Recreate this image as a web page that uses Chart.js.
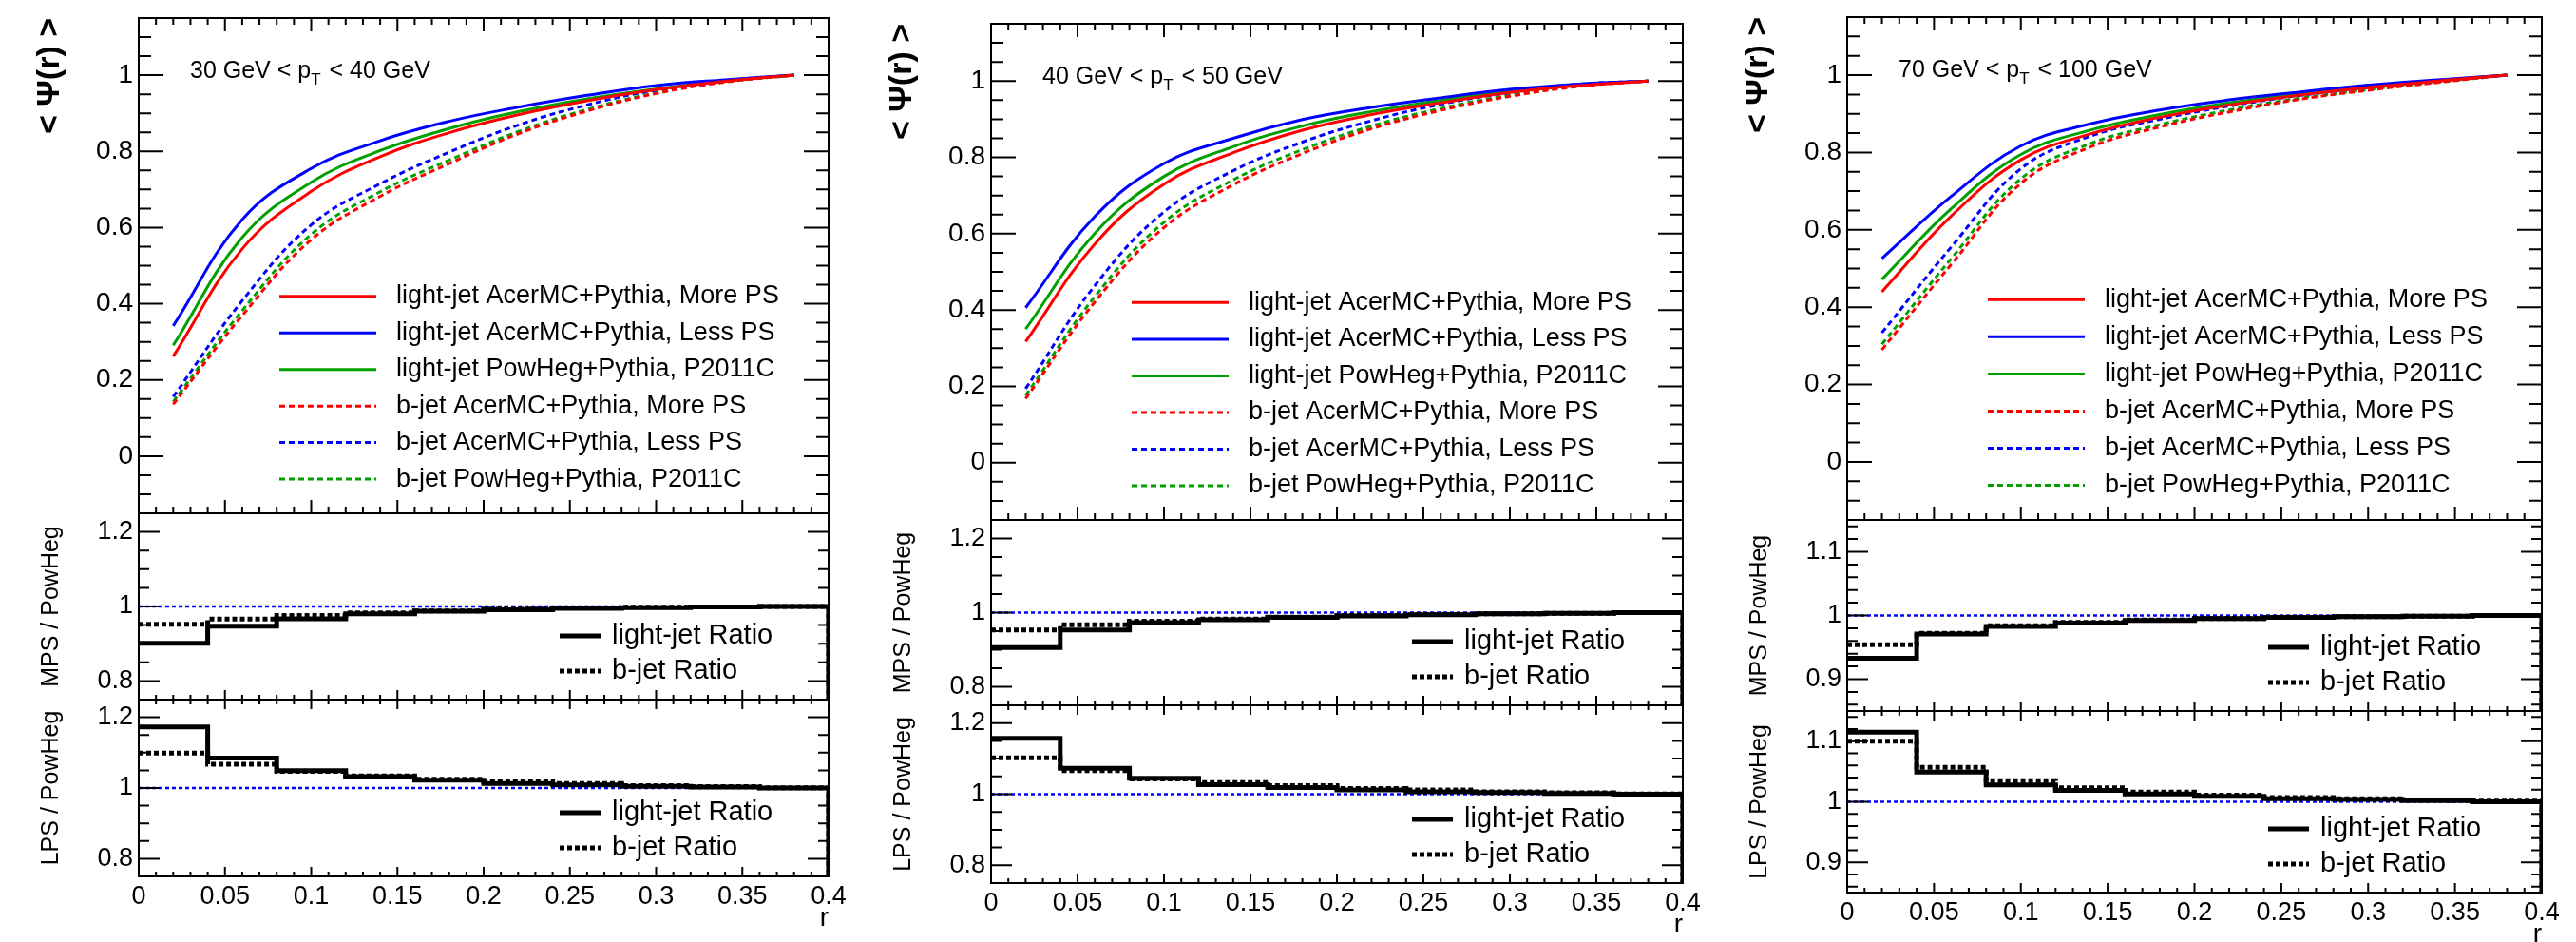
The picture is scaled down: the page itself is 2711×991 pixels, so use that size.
<!DOCTYPE html>
<html>
<head>
<meta charset="utf-8">
<title>Integrated jet shapes</title>
<script src="https://cdn.jsdelivr.net/npm/chart.js@4.4.1/dist/chart.umd.min.js"></script>
<style>
  html, body { margin: 0; padding: 0; background: #fff; }
  body { position: relative; width: 2711px; height: 991px; overflow: hidden; }
  canvas { position: absolute; }
</style>
</head>
<body>
<script>
// r binning: curves sit on bin centres, ratio histograms use bin edges
const rCentres = [0.02, 0.06, 0.10, 0.14, 0.18, 0.22, 0.26, 0.30, 0.34, 0.38];
const rEdges = [0, 0.04, 0.08, 0.12, 0.16, 0.20, 0.24, 0.28, 0.32, 0.36, 0.40];
const rRange = [0, 0.4];
const rTicks = [0, 0.05, 0.1, 0.15, 0.2, 0.25, 0.3, 0.35, 0.4];
const rTickLabels = ['0', '0.05', '0.1', '0.15', '0.2', '0.25', '0.3', '0.35', '0.4'];
const psiTicks = [0, 0.2, 0.4, 0.6, 0.8, 1];
const psiTickLabels = ['0', '0.2', '0.4', '0.6', '0.8', '1'];
const ratioTicksWide = [0.8, 1, 1.2];
const ratioTickLabelsWide = ['0.8', '1', '1.2'];
const ratioTicksNarrow = [0.9, 1, 1.1];
const ratioTickLabelsNarrow = ['0.9', '1', '1.1'];
const refLine = [1, 1];

const ptLow = [30, 40, 70];
const ptHigh = [40, 50, 100];

const curveLabels = [
  'light-jet AcerMC+Pythia, More PS',
  'light-jet AcerMC+Pythia, Less PS',
  'light-jet PowHeg+Pythia, P2011C',
  'b-jet AcerMC+Pythia, More PS',
  'b-jet AcerMC+Pythia, Less PS',
  'b-jet PowHeg+Pythia, P2011C'
];
const ratioLabels = ['light-jet Ratio', 'b-jet Ratio'];

// <Psi(r)>, 30 < pT < 40 GeV
const lightMore30 = [0.262, 0.544, 0.695, 0.786, 0.849, 0.896, 0.933, 0.962, 0.984, 1.0];
const lightLess30 = [0.342, 0.621, 0.755, 0.828, 0.879, 0.916, 0.947, 0.973, 0.988, 1.0];
const lightPow30  = [0.291, 0.574, 0.719, 0.802, 0.860, 0.904, 0.938, 0.964, 0.985, 1.0];
const bMore30     = [0.136, 0.369, 0.568, 0.682, 0.768, 0.846, 0.906, 0.952, 0.982, 1.0];
const bLess30     = [0.156, 0.408, 0.607, 0.715, 0.798, 0.869, 0.922, 0.961, 0.985, 1.0];
const bPow30      = [0.143, 0.382, 0.582, 0.694, 0.777, 0.852, 0.910, 0.954, 0.983, 1.0];
const mpsLight30 = [0.901, 0.947, 0.967, 0.980, 0.987, 0.991, 0.995, 0.997, 0.999, 1.0];
const mpsB30     = [0.952, 0.966, 0.976, 0.983, 0.988, 0.993, 0.996, 0.998, 0.999, 1.0];
const lpsLight30 = [1.173, 1.085, 1.049, 1.032, 1.022, 1.013, 1.009, 1.005, 1.003, 1.0];
const lpsB30     = [1.099, 1.067, 1.047, 1.034, 1.025, 1.018, 1.013, 1.007, 1.004, 1.001];

// <Psi(r)>, 40 < pT < 50 GeV
const lightMore40 = [0.317, 0.573, 0.730, 0.812, 0.871, 0.912, 0.943, 0.970, 0.988, 1.0];
const lightLess40 = [0.406, 0.645, 0.784, 0.850, 0.899, 0.931, 0.956, 0.978, 0.992, 1.0];
const lightPow40  = [0.350, 0.601, 0.750, 0.828, 0.882, 0.920, 0.949, 0.973, 0.990, 1.0];
const bMore40     = [0.168, 0.421, 0.616, 0.728, 0.810, 0.875, 0.923, 0.960, 0.986, 1.0];
const bLess40     = [0.194, 0.464, 0.657, 0.765, 0.840, 0.896, 0.939, 0.970, 0.992, 1.0];
const bPow40      = [0.176, 0.435, 0.630, 0.741, 0.820, 0.882, 0.928, 0.963, 0.988, 1.0];
const mpsLight40 = [0.906, 0.953, 0.973, 0.981, 0.987, 0.991, 0.994, 0.997, 0.998, 1.0];
const mpsB40     = [0.953, 0.967, 0.977, 0.983, 0.988, 0.992, 0.995, 0.997, 0.998, 1.0];
const lpsLight40 = [1.157, 1.073, 1.045, 1.027, 1.019, 1.012, 1.007, 1.005, 1.002, 1.0];
const lpsB40     = [1.102, 1.066, 1.043, 1.033, 1.024, 1.016, 1.012, 1.007, 1.004, 1.001];

// <Psi(r)>, 70 < pT < 100 GeV
const lightMore70 = [0.440, 0.636, 0.781, 0.848, 0.891, 0.923, 0.948, 0.968, 0.985, 1.0];
const lightLess70 = [0.526, 0.687, 0.817, 0.874, 0.910, 0.936, 0.956, 0.974, 0.988, 1.0];
const lightPow70  = [0.472, 0.655, 0.795, 0.858, 0.898, 0.928, 0.951, 0.970, 0.986, 1.0];
const bMore70     = [0.290, 0.511, 0.720, 0.814, 0.866, 0.905, 0.937, 0.961, 0.981, 1.0];
const bLess70     = [0.334, 0.556, 0.758, 0.842, 0.886, 0.920, 0.947, 0.968, 0.985, 1.0];
const bPow70      = [0.304, 0.526, 0.732, 0.823, 0.872, 0.910, 0.940, 0.963, 0.982, 1.0];
const mpsLight70 = [0.933, 0.971, 0.983, 0.988, 0.992, 0.995, 0.997, 0.998, 0.999, 1.0];
const mpsB70     = [0.954, 0.972, 0.984, 0.989, 0.993, 0.995, 0.997, 0.998, 0.999, 1.0];
const lpsLight70 = [1.115, 1.049, 1.028, 1.019, 1.013, 1.009, 1.005, 1.004, 1.002, 1.0];
const lpsB70     = [1.100, 1.057, 1.035, 1.023, 1.016, 1.011, 1.007, 1.005, 1.003, 1.001];

const FONT = '"Liberation Sans", Arial, Helvetica, sans-serif';
const RED = '#ff0000', BLUE = '#0000ff', GREEN = '#00a000';
const LEFT = 130, RIGHT = 25, PAD = 30, XAXIS = 64;

// frame boxes of the three columns (main pad, MPS ratio, LPS ratio)
const columns = [
  { x0: 146, x1: 872, main: [19, 540], mps: [540, 736], lps: [736, 922],
    curves: [lightMore30, lightLess30, lightPow30, bMore30, bLess30, bPow30],
    mps_: [mpsLight30, mpsB30], lps_: [lpsLight30, lpsB30],
    rmin: 0.75, rmax: 1.25, rticks: ratioTicksWide, rlabels: ratioTickLabelsWide, rminor: 0.05 },
  { x0: 1043, x1: 1771, main: [25, 547], mps: [547, 742], lps: [742, 929],
    curves: [lightMore40, lightLess40, lightPow40, bMore40, bLess40, bPow40],
    mps_: [mpsLight40, mpsB40], lps_: [lpsLight40, lpsB40],
    rmin: 0.75, rmax: 1.25, rticks: ratioTicksWide, rlabels: ratioTickLabelsWide, rminor: 0.05 },
  { x0: 1944, x1: 2675, main: [18, 547], mps: [547, 748], lps: [748, 939],
    curves: [lightMore70, lightLess70, lightPow70, bMore70, bLess70, bPow70],
    mps_: [mpsLight70, mpsB70], lps_: [lpsLight70, lpsB70],
    rmin: 0.85, rmax: 1.15, rticks: ratioTicksNarrow, rlabels: ratioTickLabelsNarrow, rminor: 0.02 }
];

// frame, inward ROOT-style ticks, legend and the pT note
const padDecor = {
  id: 'padDecor',
  afterDatasetsDraw(chart, args, o) {
    const { ctx, chartArea: a } = chart;
    const x = chart.scales.x, y = chart.scales.y;
    ctx.save();
    ctx.strokeStyle = '#000';
    ctx.lineWidth = 2;
    ctx.setLineDash([]);
    ctx.beginPath();
    const yTick = (v, len) => {
      const py = y.getPixelForValue(v);
      ctx.moveTo(a.left, py); ctx.lineTo(a.left + len, py);
      ctx.moveTo(a.right, py); ctx.lineTo(a.right - len, py);
    };
    const xTick = (v, len) => {
      const px = x.getPixelForValue(v);
      if (o.xTop) { ctx.moveTo(px, a.top); ctx.lineTo(px, a.top + len); }
      if (o.xBottom) { ctx.moveTo(px, a.bottom); ctx.lineTo(px, a.bottom - len); }
    };
    const first = Math.ceil(y.min / o.yMinorStep - 1e-6);
    const last = Math.floor(y.max / o.yMinorStep + 1e-6);
    for (let i = first; i <= last; i++) yTick(i * o.yMinorStep, o.yMinorLen);
    o.yTicks.forEach(v => yTick(v, o.yMajorLen));
    for (let i = 0; i <= 40; i++) xTick(i * 0.01, o.xMinorLen);
    rTicks.forEach(v => xTick(v, o.xMajorLen));
    ctx.stroke();
    ctx.strokeRect(a.left, a.top, a.right - a.left, a.bottom - a.top);

    const L = o.legend;
    ctx.font = L.size + 'px ' + FONT;
    ctx.textBaseline = 'middle';
    ctx.textAlign = 'left';
    ctx.fillStyle = '#000';
    let row = 0;
    chart.data.datasets.forEach(ds => {
      if (!ds.label) return;
      const cy = a.top + L.rows[row++];
      ctx.beginPath();
      ctx.strokeStyle = ds.borderColor;
      ctx.lineWidth = ds.borderWidth;
      ctx.setLineDash(ds.borderDash || []);
      ctx.moveTo(a.left + L.x0, cy);
      ctx.lineTo(a.left + L.x1, cy);
      ctx.stroke();
      ctx.setLineDash([]);
      ctx.fillText(ds.label, a.left + L.textX, cy);
    });

    if (o.note) {
      const nx = a.left + 54, ny = a.top + 56;
      ctx.font = '25px ' + FONT;
      const head = o.note.lo + ' GeV < p';
      ctx.fillText(head, nx, ny);
      let px = nx + ctx.measureText(head).width;
      ctx.font = '17px ' + FONT;
      ctx.fillText('T', px, ny + 9);
      px += ctx.measureText('T').width + 2;
      ctx.font = '25px ' + FONT;
      ctx.fillText(' < ' + o.note.hi + ' GeV', px, ny);
    }
    ctx.restore();
  }
};

function padCanvas(col, span, withAxis) {
  const c = document.createElement('canvas');
  const w = col.x1 - col.x0 + LEFT + RIGHT;
  const h = span[1] - span[0] + PAD + (withAxis ? XAXIS : PAD);
  c.width = w; c.height = h;
  c.style.left = (col.x0 - LEFT) + 'px';
  c.style.top = (span[0] - PAD) + 'px';
  c.style.width = w + 'px';
  c.style.height = h + 'px';
  document.body.appendChild(c);
  return c;
}

function padOptions(p) {
  return {
    responsive: false, animation: false, events: [], devicePixelRatio: 1,
    layout: { padding: { left: 0, top: PAD, right: RIGHT, bottom: p.withAxis ? 0 : PAD } },
    scales: {
      x: {
        type: 'linear', min: rRange[0], max: rRange[1], display: p.withAxis,
        grid: { display: false, drawTicks: false }, border: { display: false },
        afterBuildTicks: s => { s.ticks = rTicks.map(v => ({ value: v })); },
        ticks: { padding: 5, autoSkip: false, maxRotation: 0, minRotation: 0, color: '#000',
                 font: { family: FONT, size: 27 }, callback: (v, i) => rTickLabels[i] },
        title: { display: true, text: 'r', align: 'end', color: '#000',
                 font: { family: FONT, size: 28 }, padding: { top: 0, bottom: 3 } },
        afterFit: s => { s.height = p.withAxis ? XAXIS : 0; }
      },
      y: {
        type: 'linear', min: p.min, max: p.max,
        grid: { display: false, drawTicks: false }, border: { display: false },
        afterBuildTicks: s => { s.ticks = p.ticks.map(v => ({ value: v })); },
        ticks: { padding: 6, autoSkip: false, color: '#000',
                 font: { family: FONT, size: p.labelSize }, callback: (v, i) => p.labels[i] },
        title: { display: true, text: p.title, align: p.titleAlign, color: '#000',
                 font: { family: FONT, size: p.titleSize, weight: p.titleWeight },
                 padding: { top: p.titlePad, bottom: 0 } },
        afterFit: s => { s.width = LEFT; }
      }
    },
    plugins: {
      legend: { display: false }, tooltip: { enabled: false },
      padDecor: p.decor
    }
  };
}

const curveStyles = [
  { c: RED, d: [] }, { c: BLUE, d: [] }, { c: GREEN, d: [] },
  { c: RED, d: [6, 4] }, { c: BLUE, d: [6, 4] }, { c: GREEN, d: [6, 4] }
];

function histPoints(vals) {
  const pts = vals.map((v, i) => ({ x: rEdges[i], y: v }));
  pts.push({ x: rEdges[vals.length], y: vals[vals.length - 1] });
  pts.push({ x: rEdges[vals.length], y: 0 }); // outline closes down to zero at the last edge
  return pts;
}

columns.forEach((col, k) => {
  // main pad with the six <Psi(r)> curves
  const H = col.main[1] - col.main[0];
  new Chart(padCanvas(col, col.main, false), {
    type: 'line',
    data: {
      datasets: col.curves.map((vals, i) => ({
        label: curveLabels[i],
        data: vals.map((v, j) => ({ x: rCentres[j], y: v })),
        borderColor: curveStyles[i].c, borderDash: curveStyles[i].d, borderWidth: 3,
        pointRadius: 0, tension: 0.4, fill: false
      }))
    },
    options: padOptions({
      withAxis: false, min: -0.15, max: 1.15, ticks: psiTicks, labels: psiTickLabels,
      labelSize: 28, title: '< \u03A8(r) >', titleAlign: 'end', titleSize: 34,
      titleWeight: 'bold', titlePad: 16,
      decor: {
        xTop: true, xBottom: true, xMajorLen: 14, xMinorLen: 7,
        yTicks: psiTicks, yMinorStep: 0.05, yMajorLen: 26, yMinorLen: 13,
        legend: { size: 27, x0: 148, x1: 250, textX: 271,
                  rows: [0, 1, 2, 3, 4, 5].map(i => (0.562 + i * 0.0738) * H) },
        note: { lo: ptLow[k], hi: ptHigh[k] }
      }
    }),
    plugins: [padDecor]
  });

  // two ratio pads, MPS / PowHeg and LPS / PowHeg
  [['MPS / PowHeg', col.mps, col.mps_, false], ['LPS / PowHeg', col.lps, col.lps_, true]]
    .forEach(([title, span, series, bottom]) => {
      const h = span[1] - span[0];
      new Chart(padCanvas(col, span, bottom), {
        type: 'line',
        data: {
          datasets: [
            { label: ratioLabels[0], data: histPoints(series[0]), stepped: 'before',
              borderColor: '#000', borderWidth: 5, borderDash: [], pointRadius: 0, fill: false },
            { label: ratioLabels[1], data: histPoints(series[1]), stepped: 'before',
              borderColor: '#000', borderWidth: 5, borderDash: [5, 3], pointRadius: 0, fill: false },
            { data: refLine.map((v, i) => ({ x: rRange[i], y: v })),
              borderColor: BLUE, borderWidth: 2.5, borderDash: [4, 3], pointRadius: 0, fill: false }
          ]
        },
        options: padOptions({
          withAxis: bottom, min: col.rmin, max: col.rmax, ticks: col.rticks, labels: col.rlabels,
          labelSize: 27, title: title, titleAlign: 'center', titleSize: 25,
          titleWeight: 'normal', titlePad: 23,
          decor: {
            xTop: bottom, xBottom: true, xMajorLen: 10, xMinorLen: 5,
            yTicks: col.rticks, yMinorStep: col.rminor, yMajorLen: 22, yMinorLen: 11,
            legend: { size: 29, x0: 443, x1: 486, textX: 498, rows: [h - 67, h - 30] },
            note: null
          }
        }),
        plugins: [padDecor]
      });
    });
});
</script>
</body>
</html>
